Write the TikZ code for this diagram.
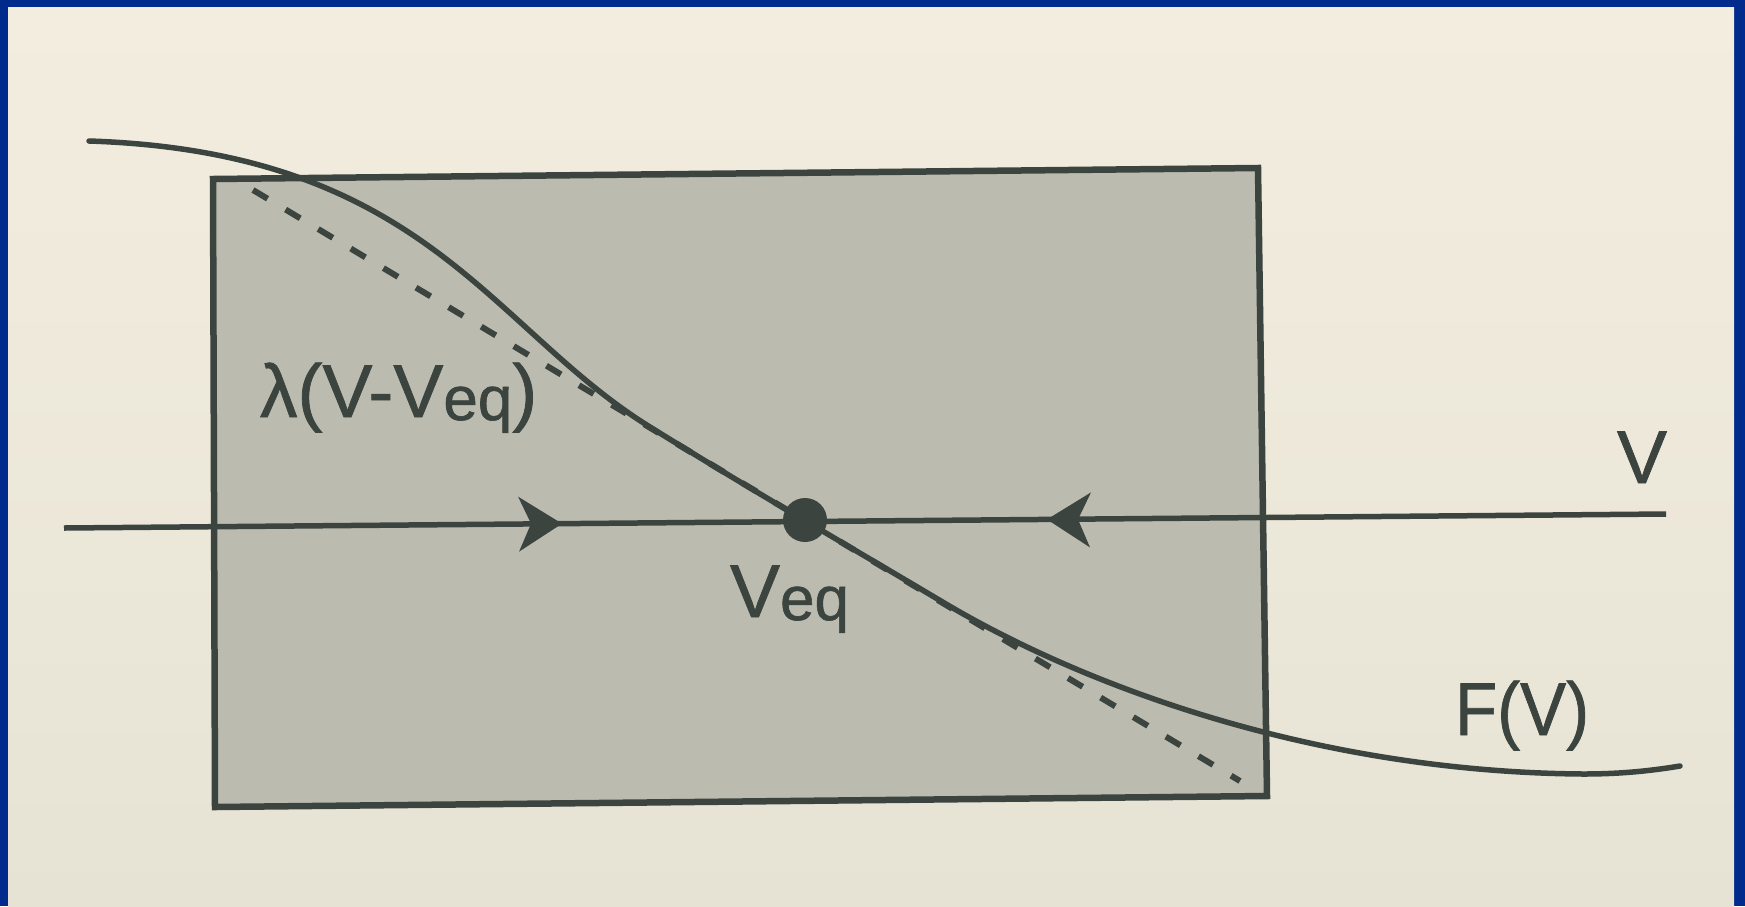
\documentclass[tikz,border=0pt]{standalone}
\usepackage{fontspec}
\setmainfont{Liberation Sans}[FakeBold=1]
\usetikzlibrary{calc}
\definecolor{frameblue}{RGB}{0,42,140}
\definecolor{paperA}{RGB}{243,237,223}
\definecolor{paperB}{RGB}{230,227,213}
\definecolor{screen}{RGB}{187,188,175}
\definecolor{ink}{RGB}{60,68,64}
\newcommand{\lbltext}[2][1]{\scalebox{#1}[1]{\fontsize{75}{80}\selectfont #2}}
\newcommand{\eqsub}{\raisebox{-3pt}{\fontsize{62}{62}\selectfont eq}}
\begin{document}
\begin{tikzpicture}[x=1pt,y=-1pt,
  inkline/.style={draw=ink,line width=5.5pt},
  lbl/.style={inner sep=0pt,outer sep=0pt,text=ink},
  tipfill/.style={fill=ink},
]
\useasboundingbox (0,0) rectangle (1745,906);
\fill[frameblue] (0,0) rectangle (1745,906);
\shade[top color=paperA,bottom color=paperB] (8,7) rectangle (1734,906);

% shaded box
\coordinate (TL) at (213,179);
\coordinate (TR) at (1258,168);
\coordinate (BR) at (1267,796);
\coordinate (BL) at (215,807);
\filldraw[fill=screen,draw=ink,line width=6.5pt,line join=miter] (TL)--(TR)--(BR)--(BL)--cycle;

% dashed tangent
\coordinate (dA) at (253,190);
\coordinate (dB) at (1240,781);
\draw[ink,line width=6pt,dash pattern=on 17pt off 21pt] (dA)--(dB);

% F(V) curve
\coordinate (fA) at (89,141);
\coordinate (fB) at (650,427);
\coordinate (fC) at (946,604);
\coordinate (fD) at (1583,774);
\coordinate (fE) at (1680,766);
\draw[inkline,line cap=round]
  (fA) .. controls (425,152) and (490,328) .. (fB)
       .. controls (750,489) and (850,547) .. (fC)
       .. controls (1090,689) and (1320,772) .. (fD)
       .. controls (1620,774) and (1650,771) .. (fE);

% axis
\coordinate (axL) at (64,528);
\coordinate (axR) at (1666,514);
\draw[inkline] (axL) -- (axR);

% arrowheads
\coordinate (rt) at ($(axL)!0.3109!(axR)$);
\coordinate (lt) at ($(axL)!0.6136!(axR)$);
\fill[tipfill] (rt) -- ($(rt)+(-44,-27)$) -- ($(rt)+(-31,0)$) -- ($(rt)+(-43,28)$) -- cycle;
\fill[tipfill] (lt) -- ($(lt)+(44,-27)$) -- ($(lt)+(31,0)$) -- ($(lt)+(43,28)$) -- cycle;

% equilibrium point
\node[circle,fill=ink,minimum size=44pt,inner sep=0pt] (eq) at (805,520) {};

% labels
\node[lbl,anchor=base west] (lam) at (260,417) {\lbltext{λ(V-V\eqsub)}};
\node[lbl,anchor=base west] (veq) at (730,617) {\lbltext{V\eqsub}};
\node[lbl,anchor=base] (vlab) at (1642,483) {\lbltext{V}};
\node[lbl,anchor=base west] (flab) at (1455,735) {\lbltext[0.92]{F(V)}};
\end{tikzpicture}
\end{document}
